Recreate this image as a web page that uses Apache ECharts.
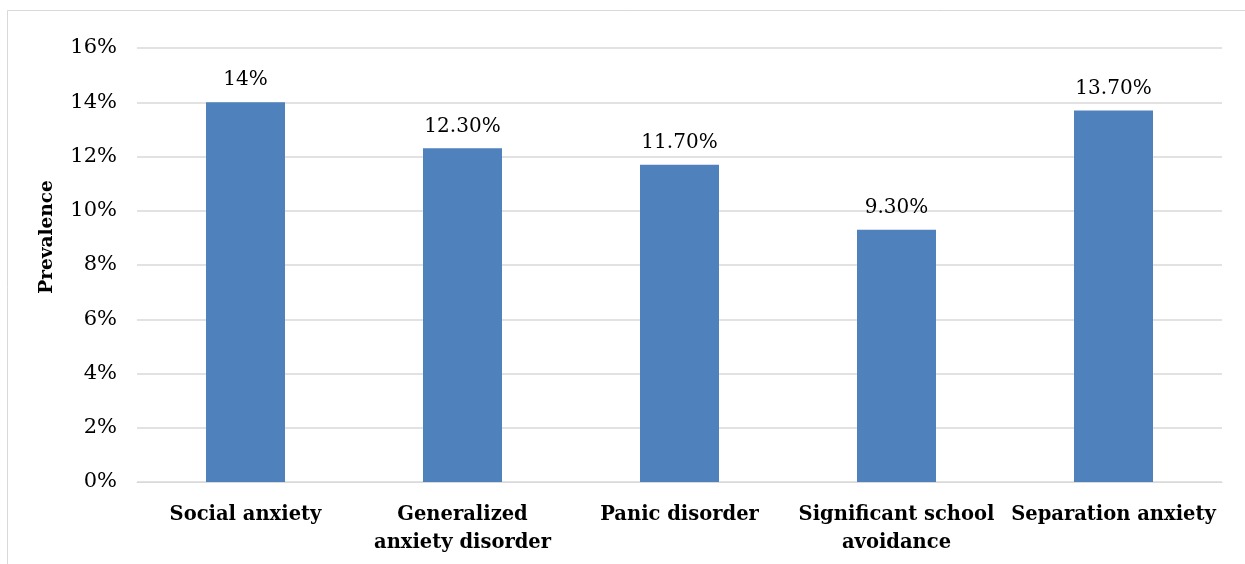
<!DOCTYPE html>
<html><head><meta charset="utf-8">
<script src="https://cdn.jsdelivr.net/npm/echarts@6/dist/echarts.min.js"></script>
<style>html,body{margin:0;padding:0;background:#fff}#c{width:1245px;height:564px}</style>
</head><body><div id="c"></div>
<script>
const categories = ['Social anxiety', 'Generalized\nanxiety disorder', 'Panic disorder', 'Significant school\navoidance', 'Separation anxiety'];
const values = [14, 12.3, 11.7, 9.3, 13.7];
const valueLabels = ['14%', '12.30%', '11.70%', '9.30%', '13.70%'];
const yTicks = [0, 2, 4, 6, 8, 10, 12, 14, 16];
const yTitle = 'Prevalence';
const FONT = 'DejaVu Serif';
const chart = echarts.init(document.getElementById('c'));
chart.setOption({
  animation: false,
  graphic: [
    {type:'rect', shape:{x:7.5, y:10.5, width:1400, height:700}, style:{fill:'none', stroke:'#d9d9d9', lineWidth:1}, z:-1},
    {type:'text', x:47, y:237, rotation: Math.PI/2,
     style:{text: yTitle, align:'center', verticalAlign:'middle', fill:'#000',
            font: 'bold 18.5px "DejaVu Serif"'}}
  ],
  grid: {left: 137, right: 23, top: 48, bottom: 82},
  xAxis: {
    type: 'category', data: categories,
    axisTick: {show:false},
    axisLine: {lineStyle:{color:'#d9d9d9'}},
    axisLabel: {fontFamily: FONT, fontWeight:'bold', fontSize: 19.5, color:'#000', lineHeight: 28, margin: 19, interval:0}
  },
  yAxis: {
    type: 'value', min: 0, max: 16, interval: 2,
    axisLabel: {fontFamily: FONT, fontSize: 21, color:'#000', margin: 20,
      formatter: v => yTicks.includes(v) ? v + '%' : ''},
    splitLine: {lineStyle:{color:'#d9d9d9', width:1.5}},
    axisLine: {show:false}, axisTick: {show:false}
  },
  series: [{
    type: 'bar', data: values, barWidth: 79,
    itemStyle: {color: '#4F81BD'},
    label: {show: true, position: 'top', distance: 12, fontFamily: FONT, fontSize: 20, color:'#000',
      formatter: p => valueLabels[p.dataIndex]}
  }]
});
</script></body></html>
